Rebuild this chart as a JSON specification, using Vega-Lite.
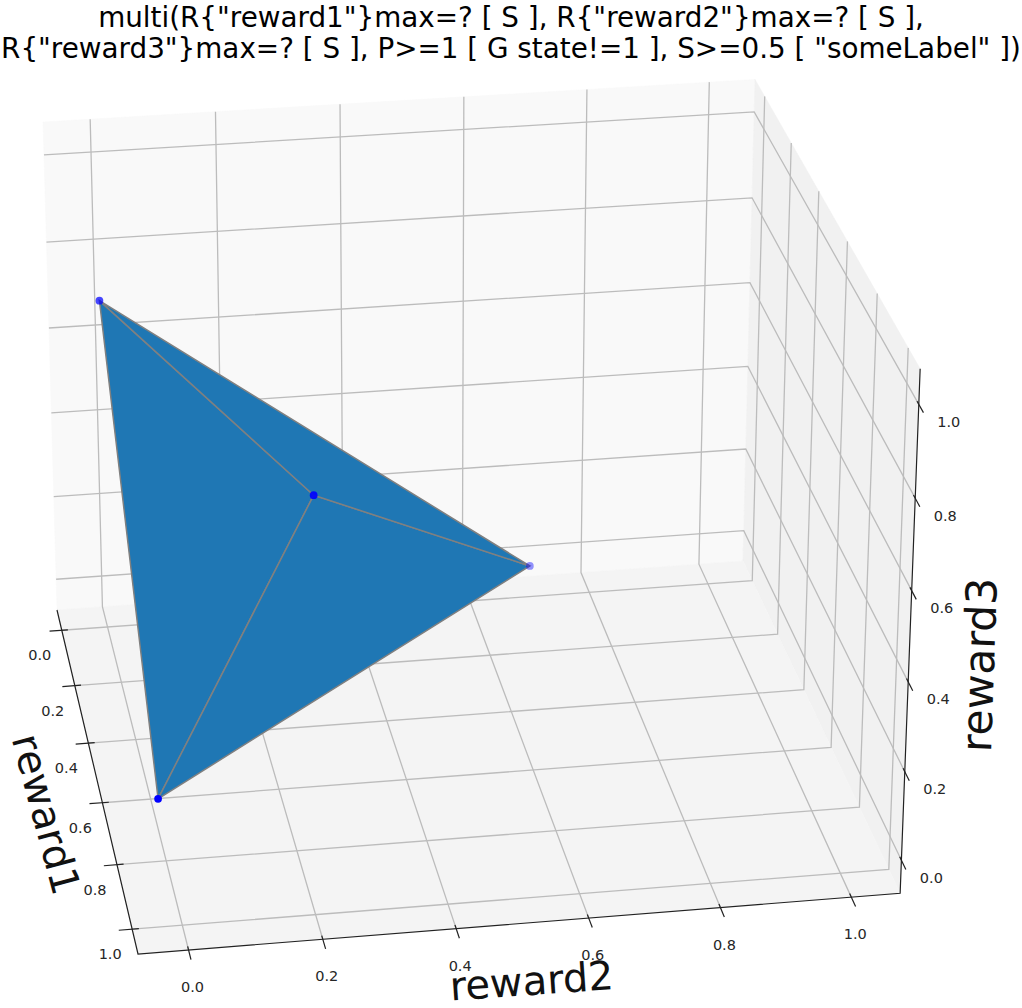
{"$schema":"https://vega.github.io/schema/vega-lite/v6.json","width":1022,"height":940,"padding":{"left":0,"right":0,"top":68,"bottom":0},"autosize":{"type":"none"},"background":"white","view":{"stroke":null},
"title":{"text":["multi(R{\"reward1\"}max=? [ S ], R{\"reward2\"}max=? [ S ],","R{\"reward3\"}max=? [ S ], P>=1 [ G state!=1 ], S>=0.5 [ \"someLabel\" ])"],"font":"DejaVu Sans","fontSize":27.8,"fontWeight":"normal","lineHeight":31,"anchor":"middle","offset":4,"color":"#000000"},
"data":{"values":[
{"kind":"paneA","id":"a","seq":0,"reward1":-0.075,"reward2":-0.075,"reward3":-0.075},{"kind":"paneA","id":"a","seq":1,"reward1":-0.075,"reward2":1.075,"reward3":-0.075},{"kind":"paneA","id":"a","seq":2,"reward1":-0.075,"reward2":1.075,"reward3":1.075},{"kind":"paneA","id":"a","seq":3,"reward1":-0.075,"reward2":-0.075,"reward3":1.075},
{"kind":"paneB","id":"b","seq":0,"reward1":-0.075,"reward2":1.075,"reward3":-0.075},{"kind":"paneB","id":"b","seq":1,"reward1":1.075,"reward2":1.075,"reward3":-0.075},{"kind":"paneB","id":"b","seq":2,"reward1":1.075,"reward2":1.075,"reward3":1.075},{"kind":"paneB","id":"b","seq":3,"reward1":-0.075,"reward2":1.075,"reward3":1.075},
{"kind":"paneC","id":"c","seq":0,"reward1":-0.075,"reward2":-0.075,"reward3":-0.075},{"kind":"paneC","id":"c","seq":1,"reward1":1.075,"reward2":-0.075,"reward3":-0.075},{"kind":"paneC","id":"c","seq":2,"reward1":1.075,"reward2":1.075,"reward3":-0.075},{"kind":"paneC","id":"c","seq":3,"reward1":-0.075,"reward2":1.075,"reward3":-0.075},

{"kind":"grid","id":"x0","seq":0,"reward1":0,"reward2":-0.075,"reward3":-0.075},{"kind":"grid","id":"x0","seq":1,"reward1":0,"reward2":1.075,"reward3":-0.075},{"kind":"grid","id":"x0","seq":2,"reward1":0,"reward2":1.075,"reward3":1.075},
{"kind":"grid","id":"x2","seq":0,"reward1":0.2,"reward2":-0.075,"reward3":-0.075},{"kind":"grid","id":"x2","seq":1,"reward1":0.2,"reward2":1.075,"reward3":-0.075},{"kind":"grid","id":"x2","seq":2,"reward1":0.2,"reward2":1.075,"reward3":1.075},
{"kind":"grid","id":"x4","seq":0,"reward1":0.4,"reward2":-0.075,"reward3":-0.075},{"kind":"grid","id":"x4","seq":1,"reward1":0.4,"reward2":1.075,"reward3":-0.075},{"kind":"grid","id":"x4","seq":2,"reward1":0.4,"reward2":1.075,"reward3":1.075},
{"kind":"grid","id":"x6","seq":0,"reward1":0.6,"reward2":-0.075,"reward3":-0.075},{"kind":"grid","id":"x6","seq":1,"reward1":0.6,"reward2":1.075,"reward3":-0.075},{"kind":"grid","id":"x6","seq":2,"reward1":0.6,"reward2":1.075,"reward3":1.075},
{"kind":"grid","id":"x8","seq":0,"reward1":0.8,"reward2":-0.075,"reward3":-0.075},{"kind":"grid","id":"x8","seq":1,"reward1":0.8,"reward2":1.075,"reward3":-0.075},{"kind":"grid","id":"x8","seq":2,"reward1":0.8,"reward2":1.075,"reward3":1.075},
{"kind":"grid","id":"x10","seq":0,"reward1":1,"reward2":-0.075,"reward3":-0.075},{"kind":"grid","id":"x10","seq":1,"reward1":1,"reward2":1.075,"reward3":-0.075},{"kind":"grid","id":"x10","seq":2,"reward1":1,"reward2":1.075,"reward3":1.075},

{"kind":"grid","id":"y0","seq":0,"reward1":1.075,"reward2":0,"reward3":-0.075},{"kind":"grid","id":"y0","seq":1,"reward1":-0.075,"reward2":0,"reward3":-0.075},{"kind":"grid","id":"y0","seq":2,"reward1":-0.075,"reward2":0,"reward3":1.075},
{"kind":"grid","id":"y2","seq":0,"reward1":1.075,"reward2":0.2,"reward3":-0.075},{"kind":"grid","id":"y2","seq":1,"reward1":-0.075,"reward2":0.2,"reward3":-0.075},{"kind":"grid","id":"y2","seq":2,"reward1":-0.075,"reward2":0.2,"reward3":1.075},
{"kind":"grid","id":"y4","seq":0,"reward1":1.075,"reward2":0.4,"reward3":-0.075},{"kind":"grid","id":"y4","seq":1,"reward1":-0.075,"reward2":0.4,"reward3":-0.075},{"kind":"grid","id":"y4","seq":2,"reward1":-0.075,"reward2":0.4,"reward3":1.075},
{"kind":"grid","id":"y6","seq":0,"reward1":1.075,"reward2":0.6,"reward3":-0.075},{"kind":"grid","id":"y6","seq":1,"reward1":-0.075,"reward2":0.6,"reward3":-0.075},{"kind":"grid","id":"y6","seq":2,"reward1":-0.075,"reward2":0.6,"reward3":1.075},
{"kind":"grid","id":"y8","seq":0,"reward1":1.075,"reward2":0.8,"reward3":-0.075},{"kind":"grid","id":"y8","seq":1,"reward1":-0.075,"reward2":0.8,"reward3":-0.075},{"kind":"grid","id":"y8","seq":2,"reward1":-0.075,"reward2":0.8,"reward3":1.075},
{"kind":"grid","id":"y10","seq":0,"reward1":1.075,"reward2":1,"reward3":-0.075},{"kind":"grid","id":"y10","seq":1,"reward1":-0.075,"reward2":1,"reward3":-0.075},{"kind":"grid","id":"y10","seq":2,"reward1":-0.075,"reward2":1,"reward3":1.075},

{"kind":"grid","id":"z0","seq":0,"reward1":-0.075,"reward2":-0.075,"reward3":0},{"kind":"grid","id":"z0","seq":1,"reward1":-0.075,"reward2":1.075,"reward3":0},{"kind":"grid","id":"z0","seq":2,"reward1":1.075,"reward2":1.075,"reward3":0},
{"kind":"grid","id":"z2","seq":0,"reward1":-0.075,"reward2":-0.075,"reward3":0.2},{"kind":"grid","id":"z2","seq":1,"reward1":-0.075,"reward2":1.075,"reward3":0.2},{"kind":"grid","id":"z2","seq":2,"reward1":1.075,"reward2":1.075,"reward3":0.2},
{"kind":"grid","id":"z4","seq":0,"reward1":-0.075,"reward2":-0.075,"reward3":0.4},{"kind":"grid","id":"z4","seq":1,"reward1":-0.075,"reward2":1.075,"reward3":0.4},{"kind":"grid","id":"z4","seq":2,"reward1":1.075,"reward2":1.075,"reward3":0.4},
{"kind":"grid","id":"z6","seq":0,"reward1":-0.075,"reward2":-0.075,"reward3":0.6},{"kind":"grid","id":"z6","seq":1,"reward1":-0.075,"reward2":1.075,"reward3":0.6},{"kind":"grid","id":"z6","seq":2,"reward1":1.075,"reward2":1.075,"reward3":0.6},
{"kind":"grid","id":"z8","seq":0,"reward1":-0.075,"reward2":-0.075,"reward3":0.8},{"kind":"grid","id":"z8","seq":1,"reward1":-0.075,"reward2":1.075,"reward3":0.8},{"kind":"grid","id":"z8","seq":2,"reward1":1.075,"reward2":1.075,"reward3":0.8},
{"kind":"grid","id":"z10","seq":0,"reward1":-0.075,"reward2":-0.075,"reward3":1},{"kind":"grid","id":"z10","seq":1,"reward1":-0.075,"reward2":1.075,"reward3":1},{"kind":"grid","id":"z10","seq":2,"reward1":1.075,"reward2":1.075,"reward3":1},

{"kind":"axis","id":"ax1","seq":0,"reward1":-0.075,"reward2":-0.075,"reward3":-0.075},{"kind":"axis","id":"ax1","seq":1,"reward1":1.075,"reward2":-0.075,"reward3":-0.075},{"kind":"axis","id":"ax1","seq":2,"reward1":1.075,"reward2":1.075,"reward3":-0.075},{"kind":"axis","id":"ax1","seq":3,"reward1":1.075,"reward2":1.075,"reward3":1.075},

{"kind":"axis","id":"tx0","seq":0,"reward1":0,"reward2":-0.095,"reward3":-0.075},{"kind":"axis","id":"tx0","seq":1,"reward1":0,"reward2":-0.065,"reward3":-0.075},
{"kind":"axis","id":"tx2","seq":0,"reward1":0.2,"reward2":-0.095,"reward3":-0.075},{"kind":"axis","id":"tx2","seq":1,"reward1":0.2,"reward2":-0.065,"reward3":-0.075},
{"kind":"axis","id":"tx4","seq":0,"reward1":0.4,"reward2":-0.095,"reward3":-0.075},{"kind":"axis","id":"tx4","seq":1,"reward1":0.4,"reward2":-0.065,"reward3":-0.075},
{"kind":"axis","id":"tx6","seq":0,"reward1":0.6,"reward2":-0.095,"reward3":-0.075},{"kind":"axis","id":"tx6","seq":1,"reward1":0.6,"reward2":-0.065,"reward3":-0.075},
{"kind":"axis","id":"tx8","seq":0,"reward1":0.8,"reward2":-0.095,"reward3":-0.075},{"kind":"axis","id":"tx8","seq":1,"reward1":0.8,"reward2":-0.065,"reward3":-0.075},
{"kind":"axis","id":"tx10","seq":0,"reward1":1,"reward2":-0.095,"reward3":-0.075},{"kind":"axis","id":"tx10","seq":1,"reward1":1,"reward2":-0.065,"reward3":-0.075},

{"kind":"axis","id":"ty0","seq":0,"reward1":1.104,"reward2":0,"reward3":-0.075},{"kind":"axis","id":"ty0","seq":1,"reward1":1.064,"reward2":0,"reward3":-0.075},
{"kind":"axis","id":"ty2","seq":0,"reward1":1.104,"reward2":0.2,"reward3":-0.075},{"kind":"axis","id":"ty2","seq":1,"reward1":1.064,"reward2":0.2,"reward3":-0.075},
{"kind":"axis","id":"ty4","seq":0,"reward1":1.104,"reward2":0.4,"reward3":-0.075},{"kind":"axis","id":"ty4","seq":1,"reward1":1.064,"reward2":0.4,"reward3":-0.075},
{"kind":"axis","id":"ty6","seq":0,"reward1":1.104,"reward2":0.6,"reward3":-0.075},{"kind":"axis","id":"ty6","seq":1,"reward1":1.064,"reward2":0.6,"reward3":-0.075},
{"kind":"axis","id":"ty8","seq":0,"reward1":1.104,"reward2":0.8,"reward3":-0.075},{"kind":"axis","id":"ty8","seq":1,"reward1":1.064,"reward2":0.8,"reward3":-0.075},
{"kind":"axis","id":"ty10","seq":0,"reward1":1.104,"reward2":1,"reward3":-0.075},{"kind":"axis","id":"ty10","seq":1,"reward1":1.064,"reward2":1,"reward3":-0.075},

{"kind":"axis","id":"tz0","seq":0,"reward1":1.104,"reward2":1.075,"reward3":0},{"kind":"axis","id":"tz0","seq":1,"reward1":1.064,"reward2":1.075,"reward3":0},
{"kind":"axis","id":"tz2","seq":0,"reward1":1.104,"reward2":1.075,"reward3":0.2},{"kind":"axis","id":"tz2","seq":1,"reward1":1.064,"reward2":1.075,"reward3":0.2},
{"kind":"axis","id":"tz4","seq":0,"reward1":1.104,"reward2":1.075,"reward3":0.4},{"kind":"axis","id":"tz4","seq":1,"reward1":1.064,"reward2":1.075,"reward3":0.4},
{"kind":"axis","id":"tz6","seq":0,"reward1":1.104,"reward2":1.075,"reward3":0.6},{"kind":"axis","id":"tz6","seq":1,"reward1":1.064,"reward2":1.075,"reward3":0.6},
{"kind":"axis","id":"tz8","seq":0,"reward1":1.104,"reward2":1.075,"reward3":0.8},{"kind":"axis","id":"tz8","seq":1,"reward1":1.064,"reward2":1.075,"reward3":0.8},
{"kind":"axis","id":"tz10","seq":0,"reward1":1.104,"reward2":1.075,"reward3":1},{"kind":"axis","id":"tz10","seq":1,"reward1":1.064,"reward2":1.075,"reward3":1},

{"kind":"lx","label":"0.0","reward1":0,"reward2":-0.075,"reward3":-0.075},{"kind":"lx","label":"0.2","reward1":0.2,"reward2":-0.075,"reward3":-0.075},{"kind":"lx","label":"0.4","reward1":0.4,"reward2":-0.075,"reward3":-0.075},{"kind":"lx","label":"0.6","reward1":0.6,"reward2":-0.075,"reward3":-0.075},{"kind":"lx","label":"0.8","reward1":0.8,"reward2":-0.075,"reward3":-0.075},{"kind":"lx","label":"1.0","reward1":1,"reward2":-0.075,"reward3":-0.075},
{"kind":"ly","label":"0.0","reward1":1.075,"reward2":0,"reward3":-0.075},{"kind":"ly","label":"0.2","reward1":1.075,"reward2":0.2,"reward3":-0.075},{"kind":"ly","label":"0.4","reward1":1.075,"reward2":0.4,"reward3":-0.075},{"kind":"ly","label":"0.6","reward1":1.075,"reward2":0.6,"reward3":-0.075},{"kind":"ly","label":"0.8","reward1":1.075,"reward2":0.8,"reward3":-0.075},{"kind":"ly","label":"1.0","reward1":1.075,"reward2":1,"reward3":-0.075},
{"kind":"lz","label":"0.0","reward1":1.075,"reward2":1.075,"reward3":0},{"kind":"lz","label":"0.2","reward1":1.075,"reward2":1.075,"reward3":0.2},{"kind":"lz","label":"0.4","reward1":1.075,"reward2":1.075,"reward3":0.4},{"kind":"lz","label":"0.6","reward1":1.075,"reward2":1.075,"reward3":0.6},{"kind":"lz","label":"0.8","reward1":1.075,"reward2":1.075,"reward3":0.8},{"kind":"lz","label":"1.0","reward1":1.075,"reward2":1.075,"reward3":1},

{"kind":"tx","label":"reward1","reward1":0.5,"reward2":-0.075,"reward3":-0.075},
{"kind":"ty","label":"reward2","reward1":1.075,"reward2":0.5,"reward3":-0.075},
{"kind":"tz","label":"reward3","reward1":1.075,"reward2":1.075,"reward3":0.5},

{"kind":"face","id":"f1","seq":0,"reward1":0,"reward2":0,"reward3":0.7},{"kind":"face","id":"f1","seq":1,"reward1":0.705,"reward2":0,"reward3":0},{"kind":"face","id":"f1","seq":2,"reward1":0.3,"reward2":0.3,"reward3":0.4},
{"kind":"face","id":"f2","seq":0,"reward1":0.705,"reward2":0,"reward3":0},{"kind":"face","id":"f2","seq":1,"reward1":0,"reward2":0.7,"reward3":0},{"kind":"face","id":"f2","seq":2,"reward1":0.3,"reward2":0.3,"reward3":0.4},
{"kind":"face","id":"f3","seq":0,"reward1":0,"reward2":0.7,"reward3":0},{"kind":"face","id":"f3","seq":1,"reward1":0,"reward2":0,"reward3":0.7},{"kind":"face","id":"f3","seq":2,"reward1":0.3,"reward2":0.3,"reward3":0.4},

{"kind":"pt","reward1":0,"reward2":0,"reward3":0.7},{"kind":"pt","reward1":0.705,"reward2":0,"reward3":0},{"kind":"pt","reward1":0,"reward2":0.7,"reward3":0},{"kind":"pt","reward1":0.3,"reward2":0.3,"reward3":0.4}
]},
"transform":[
{"calculate":"(datum.reward1+0.075)/1.15","as":"u"},
{"calculate":"(datum.reward2+0.075)/1.15","as":"v"},
{"calculate":"(datum.reward3+0.075)/1.15","as":"w"},
{"calculate":"1-0.1033*datum.u+0.0165*datum.v-0.0368*datum.w","as":"depth"},
{"calculate":"(57+66.75*datum.u+698.26*datum.v-15.58*datum.w)/datum.depth","as":"sx"},
{"calculate":"(610+245.45*datum.u-39.74*datum.v-492.49*datum.w)/datum.depth","as":"sy"}
],
"encoding":{
"x":{"field":"sx","type":"quantitative","scale":{"domain":[0,1022],"nice":false,"zero":false},"axis":null},
"y":{"field":"sy","type":"quantitative","scale":{"domain":[1008,68],"nice":false,"zero":false},"axis":null}
},
"layer":[
{"transform":[{"filter":"datum.kind==='paneA'"}],"mark":{"type":"line","fill":"#f9f9f9","stroke":"#f9f9f9","strokeWidth":0.5,"interpolate":"linear-closed"},"encoding":{"order":{"field":"seq"}}},
{"transform":[{"filter":"datum.kind==='paneB'"}],"mark":{"type":"line","fill":"#f1f1f1","stroke":"#f1f1f1","strokeWidth":0.5,"interpolate":"linear-closed"},"encoding":{"order":{"field":"seq"}}},
{"transform":[{"filter":"datum.kind==='paneC'"}],"mark":{"type":"line","fill":"#f4f4f4","stroke":"#f4f4f4","strokeWidth":0.5,"interpolate":"linear-closed"},"encoding":{"order":{"field":"seq"}}},
{"transform":[{"filter":"datum.kind==='grid'"}],"mark":{"type":"line","stroke":"#bcbcbc","strokeWidth":1.3},"encoding":{"detail":{"field":"id"},"order":{"field":"seq"}}},
{"transform":[{"filter":"datum.kind==='axis'"}],"mark":{"type":"line","stroke":"#222222","strokeWidth":1.2},"encoding":{"detail":{"field":"id"},"order":{"field":"seq"}}},
{"transform":[{"filter":"datum.kind==='lx'"}],"mark":{"type":"text","font":"DejaVu Sans","fontSize":14.5,"color":"#262626","dx":-22,"dy":26,"align":"center","baseline":"middle"},"encoding":{"text":{"field":"label"}}},
{"transform":[{"filter":"datum.kind==='ly'"}],"mark":{"type":"text","font":"DejaVu Sans","fontSize":14.5,"color":"#262626","dx":4,"dy":38,"align":"center","baseline":"middle"},"encoding":{"text":{"field":"label"}}},
{"transform":[{"filter":"datum.kind==='lz'"}],"mark":{"type":"text","font":"DejaVu Sans","fontSize":14.5,"color":"#262626","dx":30,"dy":18.5,"align":"center","baseline":"middle"},"encoding":{"text":{"field":"label"}}},
{"transform":[{"filter":"datum.kind==='tx'"}],"mark":{"type":"text","font":"DejaVu Sans","fontSize":40,"color":"#111111","dx":27.4,"dy":60.2,"angle":75,"align":"center","baseline":"middle"},"encoding":{"text":{"field":"label"}}},
{"transform":[{"filter":"datum.kind==='ty'"}],"mark":{"type":"text","font":"DejaVu Sans","fontSize":40,"color":"#111111","dx":5,"dy":60,"angle":356,"align":"center","baseline":"middle"},"encoding":{"text":{"field":"label"}}},
{"transform":[{"filter":"datum.kind==='tz'"}],"mark":{"type":"text","font":"DejaVu Sans","fontSize":42.5,"color":"#111111","dx":-26,"dy":72,"angle":272,"align":"center","baseline":"middle"},"encoding":{"text":{"field":"label"}}},
{"transform":[{"filter":"datum.kind==='face'"}],"mark":{"type":"line","fill":"#1f77b4","stroke":"#808080","strokeWidth":1.5,"interpolate":"linear-closed"},"encoding":{"detail":{"field":"id"},"order":{"field":"seq"}}},
{"transform":[{"filter":"datum.kind==='pt'"}],"mark":{"type":"point","filled":true,"color":"#0000ff","size":60},"encoding":{"opacity":{"field":"depth","type":"quantitative","legend":null,"scale":{"domain":[0.95,0.97,1.004],"range":[1,0.72,0.4]}}}}
]}
